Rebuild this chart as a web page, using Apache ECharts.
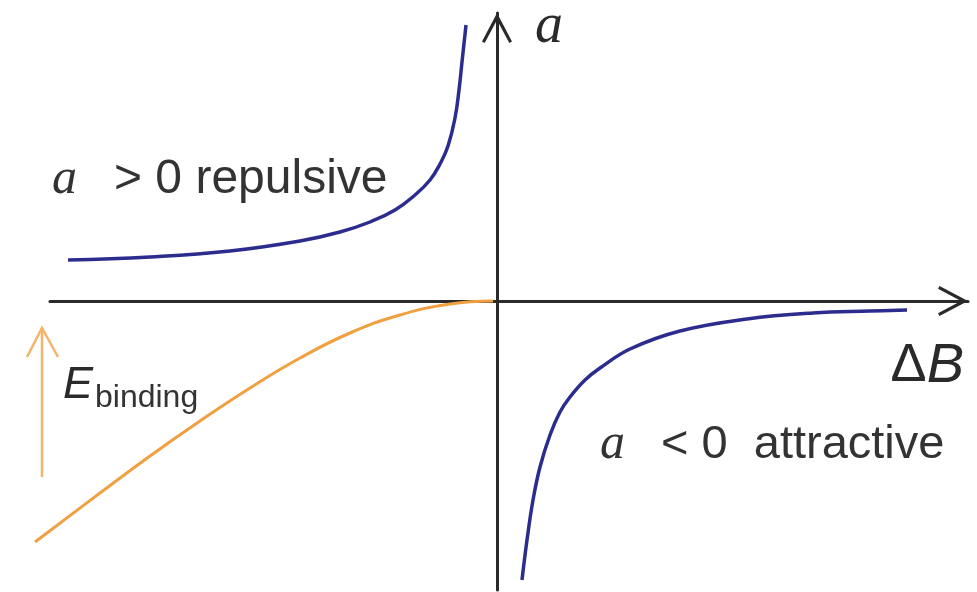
<!DOCTYPE html>
<html>
<head>
<meta charset="utf-8">
<title>Scattering length near a Feshbach resonance</title>
<script src="https://cdn.jsdelivr.net/npm/echarts@6/dist/echarts.min.js"></script>
<style>
  html, body { margin: 0; padding: 0; background: #ffffff; }
  #chart { width: 977px; height: 592px; }
</style>
</head>
<body>
<div id="chart"></div>
<script>
// Detuning ΔB (resonance at 0) and scattering length a, arbitrary units.
// Repulsive branch, below resonance.
const detuningRepulsive = [-4.29, -3.47, -2.67, -1.97, -1.57, -1.27, -1.02, -0.82, -0.67, -0.57, -0.49, -0.42, -0.38, -0.35, -0.31];
const aRepulsive        = [ 0.41,  0.44,  0.50,  0.60,  0.69,  0.79,  0.91,  1.06,  1.21,  1.37,  1.55,  1.83,  2.11,  2.39,  2.76];

// Attractive branch, above resonance.
const detuningAttractive = [0.25, 0.30, 0.36, 0.43, 0.53, 0.63, 0.73, 0.88, 1.03, 1.33, 1.83, 2.50, 3.16, 3.73, 4.10];
const aAttractive        = [-2.79, -2.39, -1.99, -1.66, -1.34, -1.11, -0.96, -0.79, -0.67, -0.48, -0.30, -0.18, -0.12, -0.10, -0.09];

// Molecular bound state energy, vanishing at resonance.
const detuningBound = [-4.62, -3.97, -3.47, -2.97, -2.47, -1.97, -1.47, -0.97, -0.47, -0.04];
const energyBound   = [-2.41, -1.92, -1.55, -1.20, -0.87, -0.57, -0.32, -0.14, -0.03, 0.00];

// Binding-energy arrow: shaft and head.
const arrowShaftX = [-4.55, -4.55];
const arrowShaftY = [-1.76, -0.27];
const arrowHeadX  = [-4.70, -4.55, -4.39];
const arrowHeadY  = [-0.56, -0.27, -0.56];

// Text
const yAxisName = 'a';
const xAxisSymbol = 'Δ';
const xAxisName = 'B';
const repulsiveText = '> 0 repulsive';
const attractiveText = '< 0  attractive';
const bindingMain = 'E';
const bindingSub = 'binding';

const pairs = (xs, ys) => xs.map((x, i) => [x, ys[i]]);

// Open chevron used as axis arrow head (points up in symbol space).
const chevron = 'path://M15,0 L30,28.5 L27.3,30 L15,7 L2.7,30 L0,28.5 Z';

const BLUE = '#2c2c8e';
const ORANGE = '#f0a040';
const ORANGE_LIGHT = '#f5b46c';
const INK = '#2a2a2a';
const TEXT = '#333333';

const Y_MIN = -2.89, Y_MAX = 2.88, X_MAX = 4.71;

const arrowLine = {
  show: true,
  onZero: true,
  symbol: ['none', chevron],
  symbolSize: [30, 30],
  symbolOffset: [0, -15],
  lineStyle: { color: INK, width: 3 }
};
const hidden = { show: false };
const bare = { axisTick: hidden, axisLabel: hidden, splitLine: hidden };

const chart = echarts.init(document.getElementById('chart'), null, { renderer: 'canvas' });

chart.setOption({
  animation: false,
  backgroundColor: '#ffffff',
  // grid 0 holds the curves (it reaches a little further left than the drawn axis),
  // grid 1 carries the arrowed axes; both share the same scale.
  grid: [
    { left: 25, right: 9, top: 13, bottom: 2 },
    { left: 50, right: 9, top: 13, bottom: 2 }
  ],
  xAxis: [
    Object.assign({ type: 'value', gridIndex: 0, min: -4.72, max: X_MAX, axisLine: hidden }, bare),
    Object.assign({ type: 'value', gridIndex: 1, min: -4.47, max: X_MAX, axisLine: arrowLine }, bare)
  ],
  yAxis: [
    Object.assign({ type: 'value', gridIndex: 0, min: Y_MIN, max: Y_MAX, axisLine: hidden }, bare),
    Object.assign({ type: 'value', gridIndex: 1, min: Y_MIN, max: Y_MAX, axisLine: arrowLine }, bare)
  ],
  series: [
    {
      type: 'line', name: 'bound', data: pairs(detuningBound, energyBound),
      smooth: 0.45, showSymbol: false, z: 1,
      lineStyle: { color: ORANGE, width: 3 }
    },
    {
      type: 'line', name: 'repulsive', data: pairs(detuningRepulsive, aRepulsive),
      smooth: 0.45, showSymbol: false, z: 3,
      lineStyle: { color: BLUE, width: 3.5 }
    },
    {
      type: 'line', name: 'attractive', data: pairs(detuningAttractive, aAttractive),
      smooth: 0.4, showSymbol: false, z: 3,
      lineStyle: { color: BLUE, width: 3.5 }
    },
    {
      type: 'line', name: 'arrowShaft', data: pairs(arrowShaftX, arrowShaftY),
      showSymbol: false, z: 2,
      lineStyle: { color: ORANGE_LIGHT, width: 2.5 }
    },
    {
      type: 'line', name: 'arrowHead', data: pairs(arrowHeadX, arrowHeadY),
      showSymbol: false, z: 2,
      lineStyle: { color: ORANGE_LIGHT, width: 2.5, join: 'miter' }
    }
  ],
  graphic: [
    {
      type: 'text', x: 535, y: 27,
      style: {
        text: yAxisName, font: 'italic 56px "Liberation Serif"',
        fill: INK, verticalAlign: 'middle'
      }
    },
    {
      type: 'text', x: 964, y: 366,
      style: {
        text: '{s|' + xAxisSymbol + '}{i|' + xAxisName + '}',
        align: 'right', verticalAlign: 'middle',
        rich: {
          s: { font: '54px "Liberation Sans"', fill: INK },
          i: { font: 'italic 56px "Liberation Sans"', fill: INK }
        }
      }
    },
    {
      type: 'text', x: 52, y: 180,
      style: {
        text: '{i|a}{s|' + repulsiveText + '}',
        verticalAlign: 'middle',
        rich: {
          i: { font: 'italic 50px "Liberation Serif"', fill: TEXT, width: 62 },
          s: { font: '48px "Liberation Sans"', fill: TEXT }
        }
      }
    },
    {
      type: 'text', x: 600, y: 445,
      style: {
        text: '{i|a}{s|' + attractiveText + '}',
        verticalAlign: 'middle',
        rich: {
          i: { font: 'italic 50px "Liberation Serif"', fill: TEXT, width: 61 },
          s: { font: '47px "Liberation Sans"', fill: TEXT }
        }
      }
    },
    {
      type: 'text', x: 63, y: 385,
      style: {
        text: bindingMain, font: 'italic 45px "Liberation Sans"',
        fill: INK, verticalAlign: 'middle'
      }
    },
    {
      type: 'text', x: 95, y: 398,
      style: {
        text: bindingSub, font: '32px "Liberation Sans"',
        fill: TEXT, verticalAlign: 'middle'
      }
    }
  ]
});
</script>
</body>
</html>
